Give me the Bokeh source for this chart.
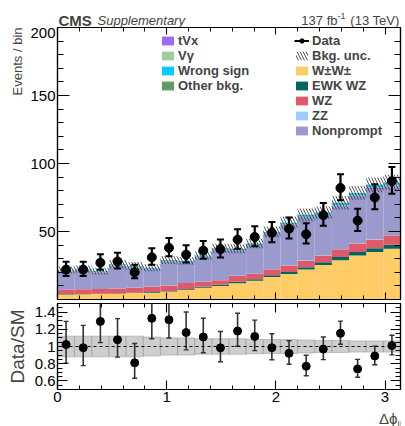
import numpy as np
from bokeh.plotting import figure
from bokeh.layouts import column
from bokeh.models import (Label, Legend, LegendItem, LinearAxis, FixedTicker,
                          Range1d, Span, Title)
from bokeh.embed import file_html
from bokeh.resources import INLINE

# ---- binning in delta-phi(ll) ----
n_bins = 20
edges = np.linspace(0.0, np.pi, n_bins + 1)
centers = 0.5 * (edges[:-1] + edges[1:])

# ---- observed events per bin ----
data_counts = [22, 22, 27, 28, 20, 31, 38, 33, 36, 37,
               44, 46, 49, 52, 48, 62, 82, 58, 75, 87]

# ---- expected yields per process (stack order, bottom to top) ----
ww = [3.7, 3.8, 4.0, 4.2, 4.7, 5.0, 5.8, 7.2, 8.7, 10.0,
      12.0, 13.8, 16.5, 18.8, 22.0, 25.3, 28.9, 32.4, 35.0, 37.3]
ewk_wz = [0.3, 0.3, 0.3, 0.35, 0.4, 0.45, 0.5, 0.6, 0.7, 0.8,
          1.0, 1.1, 1.4, 1.5, 1.7, 2.0, 2.3, 2.5, 2.7, 2.9]
wz = [3.3, 3.4, 3.4, 3.5, 3.4, 3.8, 4.0, 4.3, 3.5, 3.3,
      4.2, 3.8, 4.4, 4.7, 4.7, 5.0, 5.8, 6.3, 6.5, 7.0]
zz = [0.1, 0.1, 0.1, 0.1, 0.1, 0.1, 0.1, 0.1, 0.1, 0.1,
      0.2, 0.2, 0.2, 0.2, 0.2, 0.2, 0.2, 0.2, 0.2, 0.2]
nonprompt = [13.1, 13.7, 12.1, 16.8, 15.0, 12.8, 17.4, 14.8, 18.0, 21.8,
             18.2, 20.5, 25.2, 29.1, 31.4, 28.9, 31.3, 34.2, 36.9, 35.7]
tvx = [0.2, 0.2, 0.2, 0.2, 0.2, 0.3, 0.3, 0.3, 0.3, 0.4,
       0.4, 0.4, 0.5, 0.5, 0.5, 0.6, 0.6, 0.6, 0.7, 0.7]
vgamma = [0.2, 0.2, 0.2, 0.2, 0.2, 0.2, 0.2, 0.3, 0.3, 0.3,
          0.3, 0.3, 0.3, 0.4, 0.4, 0.4, 0.4, 0.5, 0.5, 0.5]
wrong_sign = [0.5, 0.5, 0.5, 0.5, 0.6, 0.6, 0.6, 0.7, 0.7, 0.8,
              0.8, 0.9, 1.0, 1.1, 1.2, 1.3, 1.4, 1.5, 1.6, 1.6]
other_bkg = [0.1, 0.1, 0.1, 0.1, 0.1, 0.1, 0.1, 0.1, 0.1, 0.1,
             0.2, 0.2, 0.2, 0.2, 0.2, 0.2, 0.2, 0.2, 0.2, 0.2]

# relative uncertainty on the total expectation
bkg_unc = [0.12, 0.12, 0.12, 0.12, 0.12, 0.11, 0.10, 0.10, 0.09, 0.09,
           0.09, 0.085, 0.08, 0.08, 0.075, 0.07, 0.07, 0.065, 0.065, 0.065]

processes = [
    ("W\u00b1W\u00b1", ww, "#ffcc66"),
    ("EWK WZ", ewk_wz, "#00665e"),
    ("WZ", wz, "#de5a6a"),
    ("ZZ", zz, "#99ccff"),
    ("Nonprompt", nonprompt, "#9a9acc"),
    ("tVx", tvx, "#9b6cf2"),
    ("V\u03b3", vgamma, "#9ccc9c"),
    ("Wrong sign", wrong_sign, "#00ccff"),
    ("Other bkg.", other_bkg, "#5f9c63"),
]

FONT = "Liberation Sans"
data = np.array(data_counts, dtype=float)

# Gehrels approximation of the 68% Poisson interval
err_hi = np.sqrt(data + 0.75) + 1.0
err_lo = data - data * (1.0 - 1.0 / (9.0 * data) - 1.0 / (3.0 * np.sqrt(data))) ** 3


def style_axis(ax, major_len, minor_len, show_labels, ticks):
    ax.major_tick_in = major_len
    ax.major_tick_out = 0
    ax.minor_tick_in = minor_len
    ax.minor_tick_out = 0
    ax.axis_line_color = "black"
    ax.axis_line_width = 1.2
    ax.major_tick_line_width = 1.1
    ax.minor_tick_line_width = 1.0
    if show_labels:
        ax.major_label_text_font = FONT
        ax.major_label_text_font_size = "15px"
        ax.major_label_text_color = "black"
        ax.major_label_standoff = 2
    else:
        # mirrored axis: ticks only
        ax.major_label_overrides = {t: "" for t in ticks}
        ax.major_label_text_font_size = "1px"
        ax.major_label_standoff = 0


def add_frame_axes(p, xticks, yticks, xlen, ylen, xlabels, ylabels):
    for side, ticker, lens, lab in (("below", xticks, xlen, xlabels),
                                    ("above", xticks, xlen, False),
                                    ("left", yticks, ylen, ylabels),
                                    ("right", yticks, ylen, False)):
        ax = LinearAxis(ticker=ticker)
        style_axis(ax, lens[0], lens[1], lab, ticker.ticks)
        p.add_layout(ax, side)


def text_strip(height):
    # plain strip sharing the panels' horizontal frame, used for text only
    f = figure(width=405, height=height, x_range=Range1d(0, 343), y_range=Range1d(0, height),
               output_backend="svg", toolbar_location=None,
               x_axis_location=None, y_axis_location=None,
               min_border_left=57, min_border_right=5, min_border_top=0, min_border_bottom=0)
    f.grid.visible = False
    f.outline_line_color = None
    return f


def strip_label(f, x, y, text, size, align="left", style="normal"):
    f.add_layout(Label(x=x, y=y, x_units="screen", y_units="screen", text=text,
                       text_font=FONT, text_font_size=size, text_font_style=style,
                       text_align=align, text_baseline="alphabetic"))


x_ticker = FixedTicker(ticks=[0, 1, 2, 3],
                       minor_ticks=list(np.arange(0, 3.15, 0.2)))

# ================= header line =================
head = text_strip(27)
strip_label(head, 1, 7, "CMS", "15px", style="bold")
strip_label(head, 40, 7, "Supplementary", "13px", style="italic")
strip_label(head, 342, 7, "(13 TeV)", "13px", align="right")
strip_label(head, 288, 12, "-1", "9px", align="right")
strip_label(head, 280, 7, "137 fb", "13px", align="right")

# ================= upper panel: stacked expectation and data =================
p1 = figure(width=405, height=274, x_range=Range1d(0, np.pi), y_range=Range1d(0, 200),
            output_backend="svg", toolbar_location=None,
            x_axis_location=None, y_axis_location=None,
            min_border_left=57, min_border_right=5, min_border_top=0, min_border_bottom=2)
p1.grid.visible = False
p1.outline_line_color = "black"
p1.outline_line_width = 1.2

bottom = np.zeros(n_bins)
stack_renderers = {}
for name, vals, color in processes:
    top = bottom + np.array(vals)
    r = p1.quad(left=edges[:-1], right=edges[1:], bottom=bottom, top=top,
                fill_color=color, line_color=None)
    stack_renderers[name] = r
    bottom = top
total = bottom
unc = np.array(bkg_unc)

r_unc = p1.quad(left=edges[:-1], right=edges[1:], bottom=total * (1 - unc),
                top=total * (1 + unc), fill_alpha=0, line_color=None,
                hatch_pattern="left_diagonal_line", hatch_color="#3a3a3a",
                hatch_scale=6, hatch_weight=1.0, hatch_alpha=0.85)

p1.segment(x0=centers, y0=data - err_lo, x1=centers, y1=data + err_hi,
           line_color="black", line_width=2.2)
p1.scatter(x=np.concatenate([centers, centers]),
           y=np.concatenate([data - err_lo, data + err_hi]),
           marker="dash", size=7, line_color="black", line_width=2)
r_data = p1.scatter(x=centers, y=data, size=9, color="black")
# legend-only line for the data entry
r_data_line = p1.line(x=[np.nan], y=[np.nan], line_color="black", line_width=2)

add_frame_axes(p1, x_ticker,
               FixedTicker(ticks=[50, 100, 150, 200], minor_ticks=list(range(0, 201, 10))),
               (7, 4), (12, 6), False, True)
p1.add_layout(Title(text="Events / bin", align="right", text_font=FONT,
                    text_font_size="13px", text_font_style="normal", standoff=6), "left")

leg_left = Legend(items=[LegendItem(label=n, renderers=[stack_renderers[n]])
                         for n in ("tVx", "V\u03b3", "Wrong sign", "Other bkg.")],
                  location=(103, 206))
leg_right = Legend(items=[LegendItem(label="Data", renderers=[r_data_line, r_data]),
                          LegendItem(label="Bkg. unc.", renderers=[r_unc])] +
                         [LegendItem(label=n, renderers=[stack_renderers[n]])
                          for n in ("W\u00b1W\u00b1", "EWK WZ", "WZ", "ZZ", "Nonprompt")],
                   location=(237, 161))
for leg in (leg_left, leg_right):
    leg.label_text_font = FONT
    leg.label_text_font_style = "bold"
    leg.label_text_font_size = "13px"
    leg.glyph_width = 15
    leg.glyph_height = 11
    leg.label_height = 13
    leg.label_standoff = 3
    leg.spacing = 0
    leg.padding = 0
    leg.margin = 0
    leg.border_line_alpha = 0
    leg.background_fill_alpha = 0
    p1.add_layout(leg)

# ================= lower panel: data / expectation =================
p2 = figure(width=405, height=106, x_range=p1.x_range, y_range=Range1d(0.5, 1.5),
            output_backend="svg", toolbar_location=None,
            x_axis_location=None, y_axis_location=None,
            min_border_left=57, min_border_right=5, min_border_top=2, min_border_bottom=18)
p2.grid.visible = False
p2.outline_line_color = "black"
p2.outline_line_width = 1.2

p2.quad(left=edges[:-1], right=edges[1:], bottom=1 - unc, top=1 + unc,
        fill_color="#bdbdbd", fill_alpha=0.75, line_color="#9a9a9a", line_width=0.8,
        line_alpha=0.7)
p2.add_layout(Span(location=1.0, dimension="width", line_color="black",
                   line_dash="3 3", line_width=1.2))

ratio = data / total
r_lo = (data - err_lo) / total
r_hi = (data + err_hi) / total
p2.segment(x0=centers, y0=r_lo, x1=centers, y1=r_hi, line_color="#333333", line_width=1.6)
p2.scatter(x=np.concatenate([centers, centers]), y=np.concatenate([r_lo, r_hi]),
           marker="dash", size=5, line_color="#333333", line_width=1.4)
p2.scatter(x=centers, y=ratio, size=8, color="black")

add_frame_axes(p2, x_ticker,
               FixedTicker(ticks=[0.6, 0.8, 1.0, 1.2, 1.4],
                           minor_ticks=list(np.arange(0.5, 1.501, 0.05))),
               (9, 4), (10, 5), True, True)
for ax in p2.left:
    ax.major_label_overrides = {0.6: "0.6", 0.8: "0.8", 1.0: "1", 1.2: "1.2", 1.4: "1.4"}
p2.add_layout(Title(text="Data/SM", align="center", text_font=FONT,
                    text_font_size="19px", text_font_style="normal", standoff=7), "left")

# ================= x-axis title =================
foot = text_strip(19)
strip_label(foot, 340, 8, "\u0394\u03d5", "15px", align="right")
strip_label(foot, 340, 2, "ll", "9px")

layout = column(head, p1, p2, foot, spacing=0)
open("out.html", "w").write(file_html(layout, INLINE))
